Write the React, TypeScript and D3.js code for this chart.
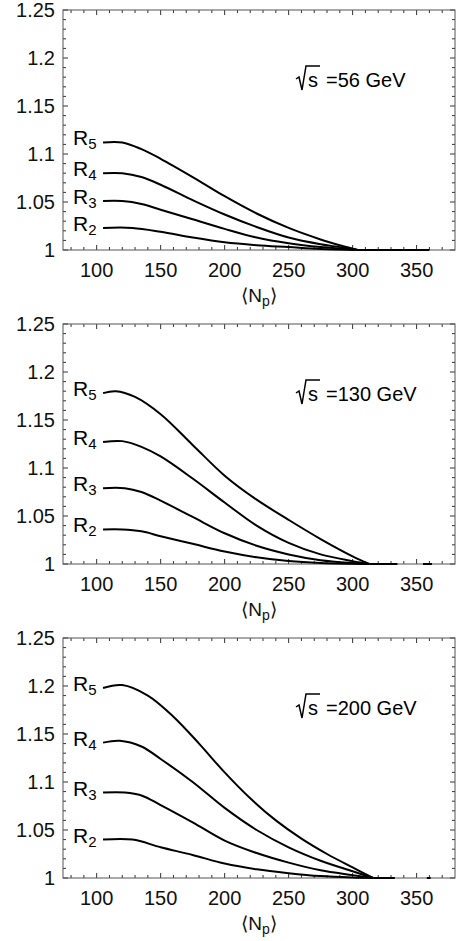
import React from 'react';
import * as d3 from 'd3';

// <Np> vs R_n for three energies
const energies = ['56', '130', '200'];
const ratioNames = ['5', '4', '3', '2'];

const r5_56 = [[105, 1.112], [120, 1.112], [135, 1.105], [150, 1.095], [175, 1.076], [200, 1.056], [225, 1.038], [250, 1.023], [275, 1.011], [290, 1.005], [304, 1.0]];
const r4_56 = [[105, 1.080], [120, 1.080], [135, 1.076], [150, 1.068], [175, 1.052], [200, 1.037], [225, 1.024], [250, 1.013], [275, 1.006], [290, 1.003], [304, 1.0]];
const r3_56 = [[105, 1.051], [120, 1.051], [135, 1.048], [150, 1.042], [175, 1.032], [200, 1.022], [225, 1.013], [250, 1.007], [275, 1.003], [304, 1.0]];
const r2_56 = [[105, 1.023], [128, 1.023], [150, 1.019], [175, 1.013], [200, 1.008], [225, 1.005], [250, 1.003], [275, 1.001], [304, 1.0]];
const flat_56 = [[304, 360]];

const r5_130 = [[105, 1.178], [115, 1.18], [130, 1.174], [150, 1.156], [175, 1.124], [200, 1.092], [225, 1.067], [250, 1.046], [275, 1.026], [300, 1.008], [313, 1.0]];
const r4_130 = [[105, 1.127], [120, 1.128], [135, 1.122], [150, 1.112], [175, 1.089], [200, 1.064], [225, 1.04], [250, 1.022], [275, 1.01], [300, 1.003], [313, 1.0]];
const r3_130 = [[105, 1.079], [122, 1.079], [135, 1.075], [150, 1.066], [175, 1.049], [200, 1.032], [225, 1.019], [250, 1.01], [275, 1.004], [300, 1.001], [313, 1.0]];
const r2_130 = [[105, 1.036], [120, 1.036], [135, 1.034], [150, 1.029], [175, 1.021], [200, 1.013], [225, 1.007], [250, 1.003], [275, 1.001], [313, 1.0]];
const flat_130 = [[313, 335], [355, 362]];

const r5_200 = [[105, 1.198], [120, 1.201], [140, 1.19], [160, 1.168], [180, 1.14], [200, 1.11], [220, 1.083], [240, 1.06], [260, 1.041], [280, 1.025], [300, 1.011], [316, 1.0]];
const r4_200 = [[105, 1.141], [118, 1.143], [135, 1.137], [150, 1.124], [175, 1.1], [200, 1.073], [225, 1.05], [250, 1.032], [275, 1.018], [300, 1.007], [316, 1.0]];
const r3_200 = [[105, 1.089], [122, 1.089], [135, 1.086], [150, 1.076], [175, 1.058], [200, 1.039], [225, 1.026], [250, 1.016], [275, 1.008], [300, 1.003], [316, 1.0]];
const r2_200 = [[105, 1.040], [128, 1.040], [150, 1.032], [175, 1.024], [200, 1.015], [225, 1.009], [250, 1.005], [275, 1.002], [300, 1.0005], [316, 1.0]];
const flat_200 = [[316, 333], [358, 361]];

const panelSeries = [
  [r5_56, r4_56, r3_56, r2_56],
  [r5_130, r4_130, r3_130, r2_130],
  [r5_200, r4_200, r3_200, r2_200],
];
const panelFlat = [flat_56, flat_130, flat_200];

const xTicks = [100, 150, 200, 250, 300, 350];
const yTicks = [1, 1.05, 1.1, 1.15, 1.2, 1.25];
const yTickLabels = ['1', '1.05', '1.1', '1.15', '1.2', '1.25'];

const W = 456;
const H = 941;
const left = 63;
const right = 455;
const plotH = 240;
const tops = [10, 324, 638];
const font = 'Liberation Sans, Arial, Helvetica, sans-serif';

function Panel({ idx }: { idx: number }) {
  const top = tops[idx];
  const x = d3.scaleLinear().domain([73.7, 380]).range([left, right]);
  const y = d3.scaleLinear().domain([1, 1.25]).range([top + plotH, top]);
  const line = d3.line<number[]>()
    .x(d => x(d[0]))
    .y(d => y(d[1]))
    .curve(d3.curveCatmullRom.alpha(0.5));

  const xMinor = d3.range(80, 380, 10);
  const yMinor = d3.range(100, 126).map(v => v / 100);
  const bottom = top + plotH;

  // energy label position
  const ex = 296;
  const ey = top + 77;

  return (
    <g>
      {/* minor + major ticks on all four sides */}
      {xMinor.map(v => {
        const major = v % 50 === 0;
        const len = major ? 5 : 3;
        return (
          <g key={'xm' + v} stroke="#333" strokeWidth={1}>
            <line x1={x(v)} x2={x(v)} y1={bottom} y2={bottom - len} />
            <line x1={x(v)} x2={x(v)} y1={top} y2={top + len} />
          </g>
        );
      })}
      {yMinor.map(v => {
        const major = Math.round(v * 100) % 5 === 0;
        const len = major ? 5 : 3;
        return (
          <g key={'ym' + v} stroke="#333" strokeWidth={1}>
            <line x1={left} x2={left + len} y1={y(v)} y2={y(v)} />
            <line x1={right} x2={right - len} y1={y(v)} y2={y(v)} />
          </g>
        );
      })}
      <rect x={left} y={top} width={right - left} height={plotH} fill="none" stroke="#555" strokeWidth={1} />

      {yTicks.map((v, i) => (
        <text key={'yl' + i} x={55} y={y(v)} dy="0.36em" textAnchor="end" fontSize={20} fontFamily={font} fill="#111">
          {yTickLabels[i]}
        </text>
      ))}
      {xTicks.map(v => (
        <text key={'xl' + v} x={x(v)} y={bottom + 27} textAnchor="middle" fontSize={20} fontFamily={font} fill="#111">
          {v}
        </text>
      ))}
      <text x={(left + right) / 2} y={bottom + 52} textAnchor="middle" fontSize={19} fontFamily={font} fill="#111">
        {'\u27E8N'}
        <tspan fontSize={14} dy={4}>p</tspan>
        <tspan dy={-4}>{'\u27E9'}</tspan>
      </text>

      {panelSeries[idx].map((s, i) => (
        <g key={'s' + i}>
          <path d={line(s) || ''} fill="none" stroke="#000" strokeWidth={2} />
          <text x={73} y={y(s[0][1]) + 3} fontSize={21} fontFamily={font} fill="#000">
            R
            <tspan fontSize={15} dy={4}>{ratioNames[i]}</tspan>
          </text>
        </g>
      ))}
      {panelFlat[idx].map((seg, i) => (
        <line key={'f' + i} x1={x(seg[0])} x2={x(seg[1])} y1={y(1)} y2={y(1)} stroke="#000" strokeWidth={2} />
      ))}

      {/* sqrt(s) = E label */}
      <path
        d={`M${ex},${ey - 8} L${ex + 3},${ey - 10} L${ex + 6},${ey + 3} L${ex + 10},${ey - 21} L${ex + 24},${ey - 21}`}
        fill="none" stroke="#000" strokeWidth={1.5}
      />
      <text x={ex + 12} y={ey} fontSize={20} fontFamily={font} fill="#000">s</text>
      <text x={ex + 30} y={ey} fontSize={20} fontFamily={font} fill="#000">
        {'=' + energies[idx] + ' GeV'}
      </text>
    </g>
  );
}

export default function App() {
  return (
    <svg width={W} height={H} style={{ position: 'absolute', left: 0, top: 0, background: '#fff' }}>
      <rect width={W} height={H} fill="#fff" />
      {energies.map((e, i) => <Panel key={e} idx={i} />)}
    </svg>
  );
}
